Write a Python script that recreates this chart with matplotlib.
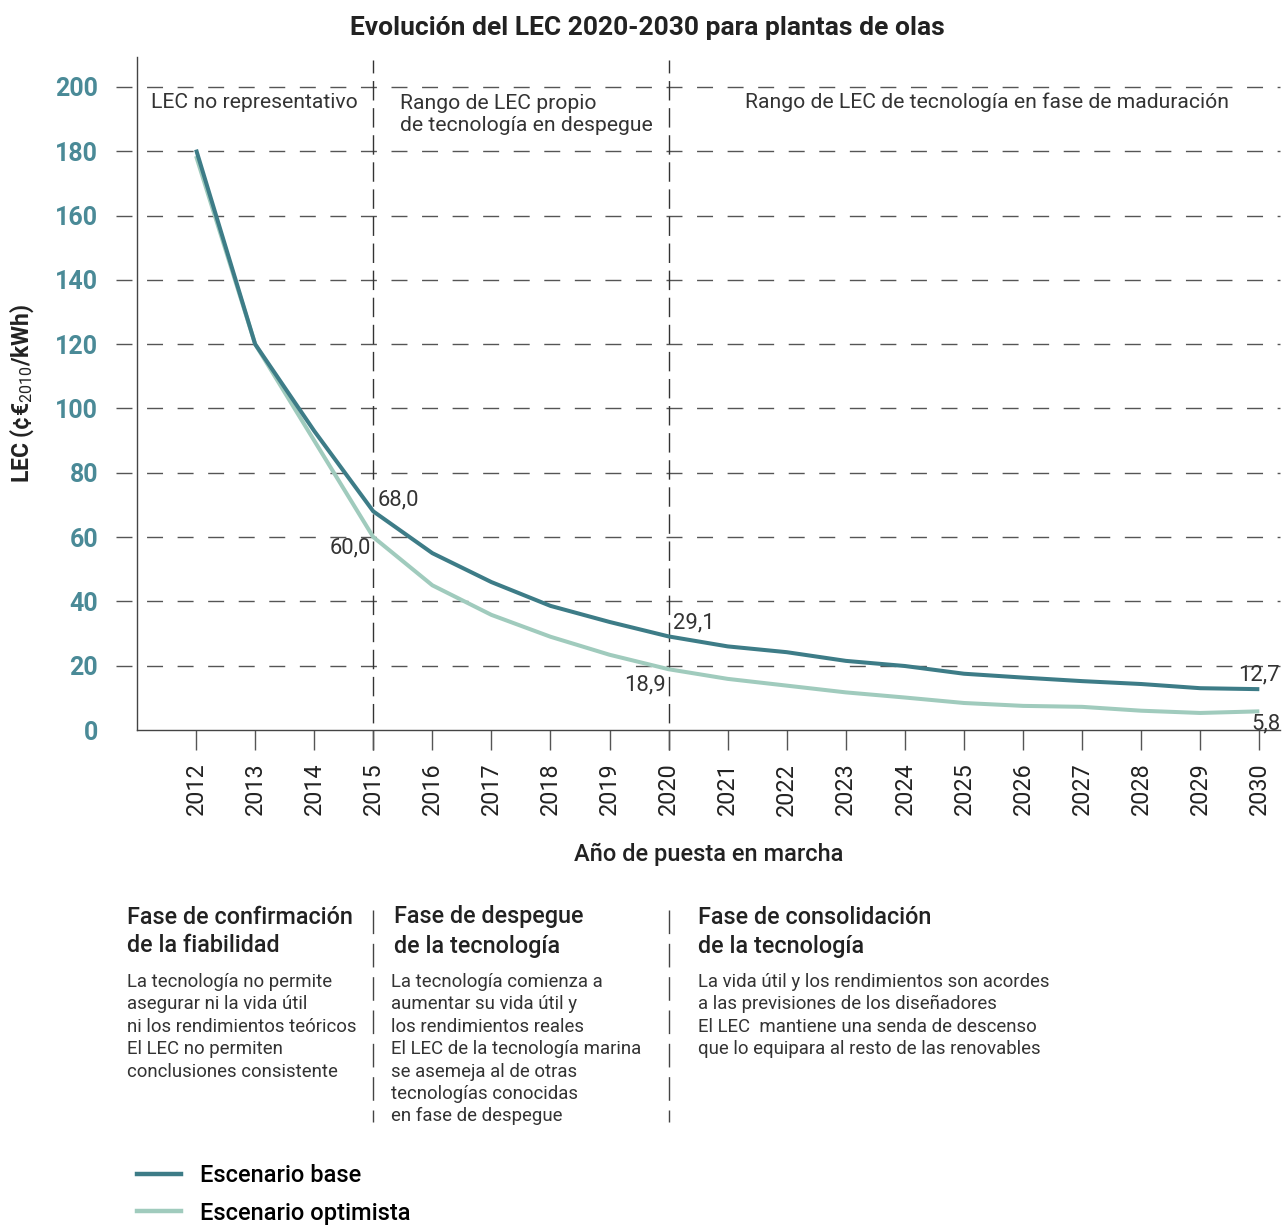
import matplotlib
matplotlib.use("Agg")
import matplotlib.pyplot as plt
from matplotlib.lines import Line2D

plt.rcParams['font.family'] = ['Roboto', 'DejaVu Sans']
plt.rcParams['mathtext.fontset'] = 'custom'
plt.rcParams['mathtext.rm'] = 'Roboto'
plt.rcParams['mathtext.it'] = 'Roboto'
plt.rcParams['mathtext.bf'] = 'Roboto:bold'

# data
years = list(range(2012, 2031))
base = [180.5, 120.0, 93.0, 68.0, 55.0, 46.0, 38.6, 33.6, 29.1, 26.0, 24.2,
        21.5, 19.9, 17.5, 16.3, 15.2, 14.3, 13.0, 12.7]
optimista = [178.5, 120.0, 90.0, 60.0, 45.0, 35.8, 29.0, 23.4, 18.9, 15.9, 13.8,
             11.7, 10.1, 8.4, 7.5, 7.2, 6.0, 5.3, 5.8]
yticks = [0, 20, 40, 60, 80, 100, 120, 140, 160, 180, 200]
phase_years = [2015, 2020]

series_names = ['Escenario base', 'Escenario optimista']
series_colors = ['#3d7c87', '#a0cbbd']

region_labels = ['LEC no representativo',
                 'Rango de LEC propio\nde tecnología en despegue',
                 'Rango de LEC de tecnología en fase de maduración']

headings = [['Fase de confirmación', 'de la fiabilidad'],
            ['Fase de despegue', 'de la tecnología'],
            ['Fase de consolidación', 'de la tecnología']]
bodies = [
    ['La tecnología no permite', 'asegurar ni la vida útil',
     'ni los rendimientos teóricos', 'El LEC no permiten',
     'conclusiones consistente'],
    ['La tecnología comienza a', 'aumentar su vida útil y',
     'los rendimientos reales', 'El LEC de la tecnología marina',
     'se asemeja al de otras', 'tecnologías conocidas', 'en fase de despegue'],
    ['La vida útil y los rendimientos son acordes',
     'a las previsiones de los diseñadores',
     'El LEC  mantiene una senda de descenso',
     'que lo equipara al resto de las renovables'],
]

W, H = 1282, 1226
fig = plt.figure(figsize=(W / 100, H / 100), dpi=100)


def fx(x):
    return x / W


def fy(y):
    return 1 - y / H


ax = fig.add_axes([fx(137), fy(730), fx(1143), 673 / H])
ax.set_xlim(2011, 2030.35)
ax.set_ylim(0, 209.3)

grid_col = '#555555'
for v in yticks[1:]:
    ax.axhline(v, xmin=-0.0185, xmax=1, color=grid_col, lw=1.0,
               linestyle=(0, (11.5, 10.5)), clip_on=False, zorder=1)
for yr in phase_years:
    ax.axvline(yr, ymin=-0.03, ymax=0.995, color='#333333', lw=1.0,
               linestyle=(0, (14, 5.5)), clip_on=False, zorder=1)

ax.plot(years, optimista, color=series_colors[1], lw=2.9, zorder=3,
        solid_capstyle='butt')
ax.plot(years, base, color=series_colors[0], lw=2.9, zorder=4,
        solid_capstyle='butt')

for s in ['top', 'right']:
    ax.spines[s].set_visible(False)
for s in ['left', 'bottom']:
    ax.spines[s].set_color('#444444')
    ax.spines[s].set_linewidth(1.0)

ax.set_yticks(yticks)
ax.set_yticklabels([str(v) for v in yticks], fontsize=18, fontweight='bold',
                   color='#4a8a97')
ax.tick_params(axis='y', length=0, pad=28)
ax.set_xticks(years)
ax.set_xticklabels([str(y) for y in years], rotation=90, fontsize=16.8,
                   color='#222222')
ax.tick_params(axis='x', direction='out', length=14.5, width=1.0,
               color='#555555', pad=9)

ax.set_xlabel('Año de puesta en marcha', fontsize=17, color='#222222',
              fontweight='medium', labelpad=20)
ax.set_ylabel('LEC (¢€$_{2010}$/kWh)', fontsize=16.5, fontweight='bold',
              color='#222222', labelpad=14)

# value labels
lab_kw = dict(fontsize=15.8, color='#333333')
ax.annotate('68,0', (2015, base[3]), xytext=(3, 8), textcoords='offset points',
            ha='left', va='center', **lab_kw)
ax.annotate('60,0', (2015, optimista[3]), xytext=(-2, -8),
            textcoords='offset points', ha='right', va='center', **lab_kw)
ax.annotate('29,1', (2020, base[8]), xytext=(3, 10), textcoords='offset points',
            ha='left', va='center', **lab_kw)
ax.annotate('18,9', (2020, optimista[8]), xytext=(-2, -11),
            textcoords='offset points', ha='right', va='center', **lab_kw)
ax.annotate('12,7', (2030, base[-1]), xytext=(15, 10), textcoords='offset points',
            ha='right', va='center', **lab_kw)
ax.annotate('5,8', (2030, optimista[-1]), xytext=(15, -9),
            textcoords='offset points', ha='right', va='center', **lab_kw)

# region labels
fig.text(fx(151), fy(102), region_labels[0], fontsize=15.2, color='#333333',
         va='center')
fig.text(fx(400), fy(114.5), region_labels[1], fontsize=15.2, color='#333333',
         va='center', linespacing=1.25)
fig.text(fx(745), fy(102), region_labels[2], fontsize=15.2, color='#333333',
         va='center')

fig.text(fx(647), fy(28), 'Evolución del LEC 2020-2030 para plantas de olas',
         fontsize=19, fontweight='bold', color='#222222', ha='center',
         va='center')

# phase descriptions below the chart
col_x = [127, 394, 698]
body_x = [127, 391, 698]
for i in range(3):
    for j, line in enumerate(headings[i]):
        fig.text(fx(col_x[i]), fy(917 + 29 * j), line, fontsize=16.8,
                 fontweight='medium', color='#222222', va='center')
    for j, line in enumerate(bodies[i]):
        fig.text(fx(body_x[i]), fy(982 + 22.4 * j), line, fontsize=13.4,
                 color='#333333', va='center')

for x in [373, 669]:
    fig.add_artist(Line2D([fx(x), fx(x)], [fy(910), fy(1122)],
                          color='#444444', lw=1.0,
                          linestyle=(0, (17, 7))))

handles = [Line2D([], [], color=c, lw=3.2) for c in series_colors]
fig.legend(handles, series_names, loc='upper left',
           bbox_to_anchor=(fx(137), fy(1164)), frameon=False,
           prop={'size': 17, 'weight': 'medium'},
           handlelength=1.85, handletextpad=0.8, labelspacing=0.62,
           borderpad=0, borderaxespad=0)

fig.savefig('out.png', dpi=100)
